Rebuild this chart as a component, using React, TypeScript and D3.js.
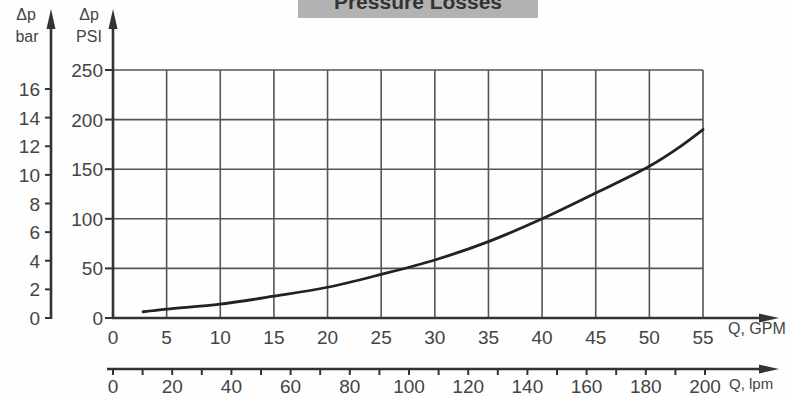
import React, { useEffect, useRef } from 'react';
import * as d3 from 'd3';

// flow (GPM) vs pressure drop (PSI)
const flowGpm = [2.8, 5, 10, 15, 20, 25, 30, 35, 40, 45, 50, 52.5, 55];
const dropPsi = [6.3, 9, 14, 22, 31, 44, 58.5, 77, 100, 126, 153, 170, 190];

const psiTicks = [0, 50, 100, 150, 200, 250];
const barTicks = [0, 2, 4, 6, 8, 10, 12, 14, 16];
const gpmTicks = [0, 5, 10, 15, 20, 25, 30, 35, 40, 45, 50, 55];
const lpmTicks = [0, 20, 40, 60, 80, 100, 120, 140, 160, 180, 200];
const lpmMinor = [10, 30, 50, 70, 90, 110, 130, 150, 170, 190];

const FONT = '"Liberation Sans", Arial, sans-serif';
const TXT = '#444';
const AX = '#333';

const App = () => {
  const svgRef = useRef(null);

  useEffect(() => {
    const svg = d3.select(svgRef.current);
    svg.selectAll('*').remove();

    const x = d3.scaleLinear().domain([0, 55]).range([113, 703]);
    const xLpm = d3.scaleLinear().domain([0, 200]).range([113, 705]);
    const y = d3.scaleLinear().domain([0, 250]).range([318, 70]);
    const yBar = d3.scaleLinear().domain([0, 16]).range([318, 89]);

    const y0 = y(0);
    const lpmY = 369;

    svg.append('rect').attr('width', 790).attr('height', 396).attr('fill', '#fefefe');

    // title box
    svg.append('rect')
      .attr('x', 298).attr('y', -2).attr('width', 240).attr('height', 20)
      .attr('fill', '#b2b2b2');
    svg.append('text')
      .attr('x', 418).attr('y', 9)
      .attr('text-anchor', 'middle')
      .style('font-family', FONT).style('font-size', '21px').style('font-weight', 'bold')
      .attr('fill', '#333')
      .text('Pressure Losses');

    // grid
    const g = svg.append('g');
    g.selectAll('.vgrid')
      .data(gpmTicks.slice(1))
      .join('line')
      .attr('x1', d => x(d)).attr('x2', d => x(d))
      .attr('y1', y(250)).attr('y2', y0)
      .attr('stroke', '#555').attr('stroke-width', 1.6);
    g.selectAll('.hgrid')
      .data(psiTicks.slice(1))
      .join('line')
      .attr('x1', x(0)).attr('x2', x(55))
      .attr('y1', d => y(d)).attr('y2', d => y(d))
      .attr('stroke', '#555').attr('stroke-width', 1.6);

    const arrowUp = (ax: number, tip: number) =>
      `M${ax},${tip} L${ax - 4.5},${tip + 20} L${ax + 4.5},${tip + 20} Z`;
    const arrowRight = (tip: number, ay: number) =>
      `M${tip},${ay} L${tip - 20},${ay - 4.5} L${tip - 20},${ay + 4.5} Z`;

    // PSI axis
    svg.append('line')
      .attr('x1', x(0)).attr('x2', x(0)).attr('y1', y0 + 1).attr('y2', 22)
      .attr('stroke', AX).attr('stroke-width', 2.6);
    svg.append('path').attr('d', arrowUp(x(0), 9)).attr('fill', AX);
    svg.selectAll('.psiTick')
      .data(psiTicks)
      .join('line')
      .attr('x1', x(0) - 8).attr('x2', x(0))
      .attr('y1', d => y(d)).attr('y2', d => y(d))
      .attr('stroke', AX).attr('stroke-width', 2);
    svg.selectAll('.psiLab')
      .data(psiTicks)
      .join('text')
      .attr('x', 103).attr('y', d => y(d) + 7)
      .attr('text-anchor', 'end')
      .style('font-family', FONT).style('font-size', '19px')
      .attr('fill', TXT)
      .text(d => d);

    // bar axis
    svg.append('line')
      .attr('x1', 51).attr('x2', 51).attr('y1', y0 + 1).attr('y2', 22)
      .attr('stroke', AX).attr('stroke-width', 2.6);
    svg.append('path').attr('d', arrowUp(51, 9)).attr('fill', AX);
    svg.selectAll('.barTick')
      .data(barTicks)
      .join('line')
      .attr('x1', 45).attr('x2', 51)
      .attr('y1', d => yBar(d)).attr('y2', d => yBar(d))
      .attr('stroke', AX).attr('stroke-width', 2);
    svg.selectAll('.barLab')
      .data(barTicks)
      .join('text')
      .attr('x', 40).attr('y', d => yBar(d) + 7)
      .attr('text-anchor', 'end')
      .style('font-family', FONT).style('font-size', '19px')
      .attr('fill', TXT)
      .text(d => d);

    // axis titles
    const lab = (tx: number, ty: number, s: string) =>
      svg.append('text')
        .attr('x', tx).attr('y', ty)
        .attr('text-anchor', 'middle')
        .style('font-family', FONT).style('font-size', '16px')
        .attr('fill', TXT)
        .text(s);
    lab(26, 20, 'Δp');
    lab(27, 42, 'bar');
    lab(89, 20, 'Δp');
    lab(89, 42, 'PSI');

    // GPM axis
    svg.append('line')
      .attr('x1', x(0) - 1).attr('x2', 765).attr('y1', y0).attr('y2', y0)
      .attr('stroke', AX).attr('stroke-width', 2.6);
    svg.append('path').attr('d', arrowRight(779, y0)).attr('fill', AX);
    svg.selectAll('.gpmLab')
      .data(gpmTicks)
      .join('text')
      .attr('x', d => x(d)).attr('y', 344)
      .attr('text-anchor', 'middle')
      .style('font-family', FONT).style('font-size', '19px')
      .attr('fill', TXT)
      .text(d => d);
    svg.append('text')
      .attr('x', 728).attr('y', 334)
      .style('font-family', FONT).style('font-size', '16px')
      .attr('fill', TXT)
      .text('Q, GPM');

    // lpm axis
    svg.append('line')
      .attr('x1', 107).attr('x2', 765).attr('y1', lpmY).attr('y2', lpmY)
      .attr('stroke', AX).attr('stroke-width', 2.6);
    svg.append('path').attr('d', arrowRight(779, lpmY)).attr('fill', AX);
    svg.selectAll('.lpmTick')
      .data(lpmTicks.concat(lpmMinor))
      .join('line')
      .attr('x1', d => xLpm(d)).attr('x2', d => xLpm(d))
      .attr('y1', lpmY).attr('y2', lpmY + 6)
      .attr('stroke', AX).attr('stroke-width', 2);
    svg.selectAll('.lpmLab')
      .data(lpmTicks)
      .join('text')
      .attr('x', d => xLpm(d)).attr('y', 393)
      .attr('text-anchor', 'middle')
      .style('font-family', FONT).style('font-size', '19px')
      .attr('fill', TXT)
      .text(d => d);
    svg.append('text')
      .attr('x', 729).attr('y', 389)
      .style('font-family', FONT).style('font-size', '15px')
      .attr('fill', TXT)
      .text('Q, lpm');

    // pressure curve
    const line = d3.line<number>()
      .x((d, i) => x(flowGpm[i]))
      .y(d => y(d))
      .curve(d3.curveCatmullRom.alpha(0.5));
    svg.append('path')
      .attr('d', line(dropPsi))
      .attr('fill', 'none')
      .attr('stroke', '#222')
      .attr('stroke-width', 2.8)
      .attr('stroke-linecap', 'round');
  }, []);

  return (
    <div style={{ position: 'absolute', left: 0, top: 0 }}>
      <svg ref={svgRef} width={790} height={396} style={{ display: 'block' }} />
    </div>
  );
};

export default App;
